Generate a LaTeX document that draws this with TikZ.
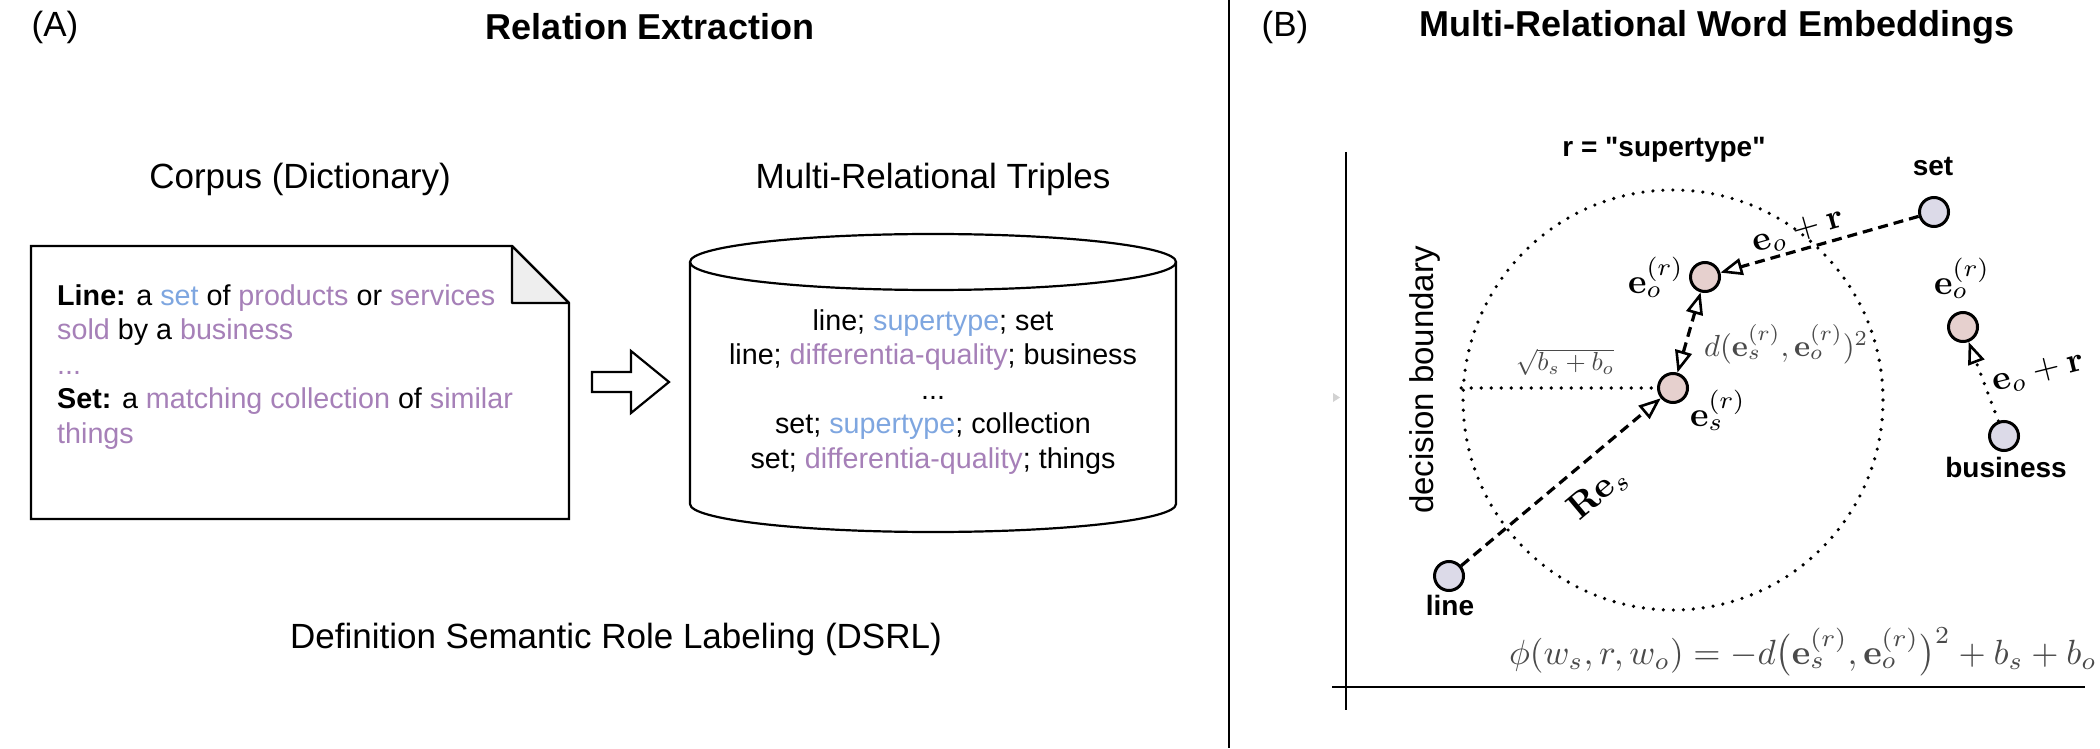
\documentclass[tikz,border=0pt]{standalone}
\usepackage{graphicx}
\usepackage[no-math]{fontspec}
\setmainfont{Liberation Sans}[Ligatures=TeXOff]
\usetikzlibrary{arrows.meta}
\definecolor{cblue}{HTML}{7EA6E0}
\definecolor{cpurple}{HTML}{A680B8}
\definecolor{pinkfill}{HTML}{E6D0CE}
\definecolor{lavfill}{HTML}{DCDAE8}
\definecolor{foldgray}{HTML}{EEEEEE}
\definecolor{mathgray}{HTML}{4A4A4A}
\newcommand{\bigmath}[2]{\scalebox{#1}{$#2$}}
\tikzset{
  titletext/.style={font=\fontsize{36}{43}\selectfont\bfseries, inner sep=0pt},
  headtext/.style={font=\fontsize{35}{42}\selectfont, inner sep=0pt},
  bodytext/.style={font=\fontsize{28.7}{34.5}\selectfont, inner sep=0pt},
  wordnode/.style={circle, draw, line width=3pt, minimum size=29pt, inner sep=0pt, fill=lavfill},
  embnode/.style={wordnode, fill=pinkfill},
  wordlabel/.style={font=\fontsize{28}{33}\selectfont\bfseries, inner sep=0pt},
  mathlabel/.style={inner sep=0pt},
  smallmath/.style={inner sep=0pt, text=mathgray},
  opentip/.tip={Triangle[fill=white, length=22pt, width=17pt, line width=2.6pt]},
  dashedarrow/.style={line width=3.2pt, dash pattern=on 10pt off 6pt, -opentip},
  dottedline/.style={line width=3.6pt, line cap=round, dash pattern=on 0pt off 10pt},
  outline/.style={line width=2.2pt},
}
\begin{document}
\begin{tikzpicture}[x=1pt,y=1pt]
\useasboundingbox (0,0) rectangle (2100,748);
\fill[white] (0,0) rectangle (2100,748);

% divider
\coordinate (divtop) at (1229,748);
\coordinate (divbot) at (1229,0);
\draw[line width=2pt] (divtop) -- (divbot);

% ---------- Panel A ----------
\node[headtext] (labA) at (55,721) {(A)};
\node[titletext] (titleA) at (650,721) {Relation Extraction};
\node[headtext] (corpus) at (300,569) {Corpus (Dictionary)};
\node[headtext] (triples) at (933,569) {Multi-Relational Triples};
\node[headtext] (dsrl) at (616,109) {Definition Semantic Role Labeling (DSRL)};

% note (dictionary page)
\draw[outline, fill=white] (31,229) -- (31,502) -- (512,502) -- (569,445) -- (569,229) -- cycle;
\draw[outline, fill=foldgray, line join=round] (512,502) -- (512,445) -- (569,445) -- cycle;
\node[bodytext, anchor=west, align=left] (notetext) at (57,381)
 {\textbf{Line:} a \textcolor{cblue}{set} of \textcolor{cpurple}{products} or \textcolor{cpurple}{services}\\
  \textcolor{cpurple}{sold} by a \textcolor{cpurple}{business}\\
  \textcolor{cpurple}{...}\\
  \textbf{Set:} a \textcolor{cpurple}{matching collection} of \textcolor{cpurple}{similar}\\
  \textcolor{cpurple}{things}};

% block arrow
\draw[outline, fill=white] (592,376) -- (631,376) -- (631,397) -- (669,366) -- (631,335) -- (631,356) -- (592,356) -- cycle;

% cylinder
\draw[outline, fill=white] (690,486) -- (690,244) arc[start angle=180, end angle=360, x radius=243, y radius=28] -- (1176,486);
\draw[outline] (933,486) ellipse [x radius=243, y radius=28];
\node[bodytext, align=center] (cyltext) at (933,356)
 {line; \textcolor{cblue}{supertype}; set\\
  line; \textcolor{cpurple}{differentia-quality}; business\\
  ...\\
  set; \textcolor{cblue}{supertype}; collection\\
  set; \textcolor{cpurple}{differentia-quality}; things};

% ---------- Panel B ----------
\node[headtext] (labB) at (1285,721) {(B)};
\node[titletext] (titleB) at (1717,721) {Multi-Relational Word Embeddings};

% axes
\coordinate (ytop) at (1346,596);
\coordinate (ybot) at (1346,38);
\coordinate (xleft) at (1332,61);
\coordinate (xright) at (2085,61);
\draw[line width=2.6pt] (ytop) -- (ybot);
\draw[line width=2.6pt] (xleft) -- (xright);
\fill[gray!35] (1333,355) -- (1340,350.5) -- (1333,346) -- cycle;

\node[wordlabel] (rlabel) at (1664,598) {r = "supertype"};
\node[headtext, font=\fontsize{33}{40}\selectfont, rotate=90] (decb) at (1425,368) {decision boundary};

% decision boundary circle
\node[circle, draw, dottedline, minimum size=420pt, inner sep=0pt] (boundary) at (1673,348) {};

% word nodes
\node[wordnode] (set) at (1934,536) {};
\node[embnode] (eo) at (1705,471) {};
\node[embnode] (es) at (1673,360) {};
\node[wordnode] (line) at (1449,172) {};
\node[embnode] (eo2) at (1963,421) {};
\node[wordnode] (business) at (2004,312) {};

\node[wordlabel] (setlab) at (1933,581) {set};
\node[wordlabel] (linelab) at (1450,143) {line};
\node[wordlabel] (buslab) at (2006,281) {business};

\node[mathlabel] (eolab) at (1656,471) {\bigmath{3.5}{\mathbf{e}_o^{(r)}}};
\node[mathlabel] (eslab) at (1718,338) {\bigmath{3.5}{\mathbf{e}_s^{(r)}}};
\node[mathlabel] (eo2lab) at (1962,470) {\bigmath{3.5}{\mathbf{e}_o^{(r)}}};

% connectors
\draw[dottedline] (boundary.west |- es) -- (es);
\draw[dashedarrow] (set) -- (eo);
\draw[dashedarrow, opentip-opentip] (es) -- (eo);
\draw[dashedarrow] (line) -- (es);
\draw[dottedline, -opentip] (business) -- (eo2);

% edge labels
\node[mathlabel, rotate=16] (eprtop) at (1798,516) {\bigmath{3.5}{\mathbf{e}_o + \mathbf{r}}};
\node[mathlabel, rotate=14] (eprright) at (2038,375) {\bigmath{3.5}{\mathbf{e}_o + \mathbf{r}}};
\node[smallmath, anchor=west] (dlab) at (1704,404) {\bigmath{3.05}{d(\mathbf{e}_s^{(r)}, \mathbf{e}_o^{(r)})^2}};
\node[smallmath] (sqrtlab) at (1565,386) {\bigmath{2.6}{\sqrt{b_s + b_o}}};
\node[mathlabel, rotate=40] (reslab) at (1598,255) {\bigmath{3.6}{\mathbf{Re}_s}};

% formula
\node[mathlabel, text=mathgray] (formula) at (1803,96)
 {\bigmath{3.5}{\phi(w_s, r, w_o) = -d\bigl(\mathbf{e}_s^{(r)}, \mathbf{e}_o^{(r)}\bigr)^2 + b_s + b_o}};
\end{tikzpicture}
\end{document}
